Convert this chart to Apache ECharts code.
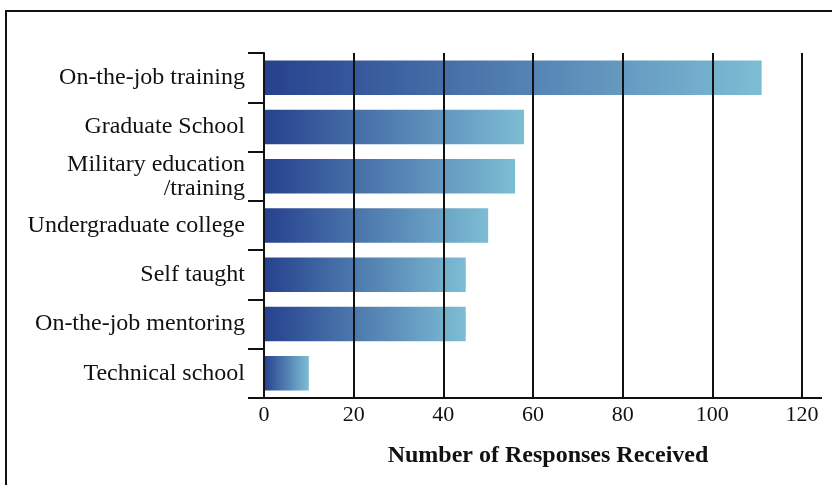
<!DOCTYPE html>
<html><head><meta charset="utf-8">
<script src="https://cdn.jsdelivr.net/npm/echarts@6/dist/echarts.min.js"></script>
<style>html,body{margin:0;padding:0;background:#fff}#c{width:832px;height:485px}</style>
</head><body><div id="c"></div>
<script>
const categories = ["On-the-job training","Graduate School","Military education\n/training","Undergraduate college","Self taught","On-the-job mentoring","Technical school"];
const values = [111, 58, 56, 50, 45, 45, 10];
const xTicks = [0, 20, 40, 60, 80, 100, 120];
const axisTitle = "Number of Responses Received";

const font = "'Liberation Serif', 'DejaVu Serif', serif";
const chart = echarts.init(document.getElementById('c'));
const frame = {type: 'rect', shape: {x: 6, y: 11, width: 900, height: 600},
    style: {fill: null, stroke: '#111', lineWidth: 2}, silent: true};
chart.setOption({
  animation: false,
  backgroundColor: '#fff',
  grid: {left: 264, right: 30, top: 53, bottom: 87, containLabel: false},
  xAxis: {
    type: 'value', min: xTicks[0], max: xTicks[xTicks.length-1], interval: 20, z: 5,
    axisLine: {show: true, lineStyle: {color: '#111', width: 2}},
    axisTick: {show: false},
    splitLine: {show: true, lineStyle: {color: '#111', width: 2}},
    axisLabel: {color: '#111', fontFamily: font, fontSize: 22, margin: 6},
    name: axisTitle, nameLocation: 'middle', nameGap: 46,
    nameTextStyle: {color: '#111', fontFamily: font, fontSize: 24, fontWeight: 'bold', padding: [0, 0, 0, 30]}
  },
  yAxis: {
    type: 'category', inverse: true, data: categories, z: 5,
    axisLine: {show: true, lineStyle: {color: '#111', width: 2}},
    axisTick: {show: true, length: 16, lineStyle: {color: '#111', width: 2}},
    axisLabel: {color: '#111', fontFamily: font, fontSize: 24, margin: 19, lineHeight: 24}
  },
  series: [{
    type: 'bar', data: values, barWidth: '70%',
    itemStyle: {color: new echarts.graphic.LinearGradient(0, 0, 1, 0, [
      {offset: 0, color: '#26418e'}, {offset: 1, color: '#7dbdd4'}])}
  }],
  graphic: [frame]
});
const r = chart.getModel().getComponent('grid').coordinateSystem.getRect();
chart.setOption({graphic: [frame,
  {type: 'line', shape: {x1: r.x + r.width, y1: r.y + r.height, x2: r.x + r.width + 20, y2: r.y + r.height},
    style: {stroke: '#111', lineWidth: 2}, silent: true}]});
</script></body></html>
